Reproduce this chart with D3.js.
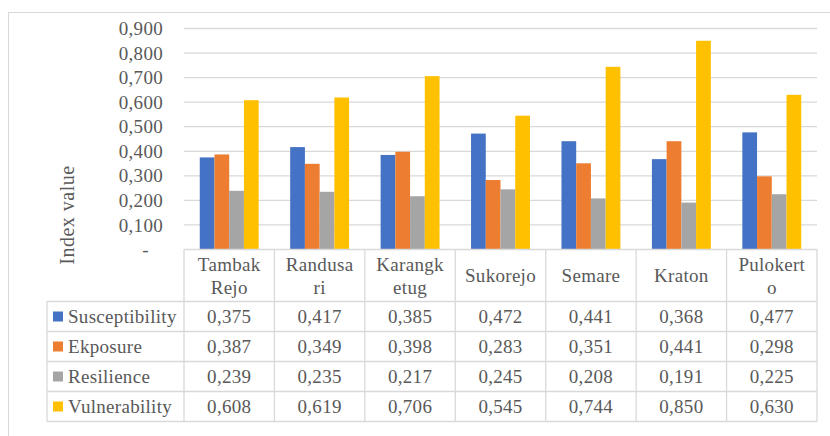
<!DOCTYPE html>
<html lang="en">
<head>
  <meta charset="UTF-8">
  <title>Index value chart</title>
  <script src="https://d3js.org/d3.v7.min.js"></script>
  <style>
    body { margin: 0; background: #fff; }
  </style>
</head>
<body>
  <script>
    var categories = [["Tambak", "Rejo"], ["Randusa", "ri"], ["Karangk", "etug"], ["Sukorejo"], ["Semare"], ["Kraton"], ["Pulokert", "o"]];
    var seriesNames = ["Susceptibility", "Ekposure", "Resilience", "Vulnerability"];
    var susceptibility = [0.375, 0.417, 0.385, 0.472, 0.441, 0.368, 0.477];
    var ekposure = [0.387, 0.349, 0.398, 0.283, 0.351, 0.441, 0.298];
    var resilience = [0.239, 0.235, 0.217, 0.245, 0.208, 0.191, 0.225];
    var vulnerability = [0.608, 0.619, 0.706, 0.545, 0.744, 0.850, 0.630];
    var yTicks = [0, 0.1, 0.2, 0.3, 0.4, 0.5, 0.6, 0.7, 0.8, 0.9];
    var colors = ["#4472C4", "#ED7D31", "#A5A5A5", "#FFC000"];

    var series = [susceptibility, ekposure, resilience, vulnerability];
    var catKeys = categories.map(function(c) { return c.join(" "); });

    var FONT = "'Liberation Serif', 'DejaVu Serif', serif";
    var width = 830, height = 436;
    var plotLeft = 184, plotRight = 817, plotTop = 28.5, plotBottom = 249.5;
    var rowTops = [301.5, 331.5, 361.5, 391.5, 421.5];  // data table rows
    var legendLeft = 47;

    var svg = d3.select("body").append("svg")
      .attr("width", width)
      .attr("height", height);

    // helper so every label gets the same serif text style
    function label(sel, size) {
      return sel.style("font-family", FONT)
        .style("font-size", (size || 19) + "px")
        .style("letter-spacing", "0.3px")
        .style("fill", "#595959");
    }

    // chart border
    svg.append("rect")
      .attr("x", 8.5).attr("y", 12.5)
      .attr("width", 840).attr("height", 440)
      .attr("fill", "none")
      .attr("stroke", "#d9d9d9");

    var x0 = d3.scaleBand().domain(catKeys).range([plotLeft, plotRight]);
    var x1 = d3.scaleBand().domain(d3.range(series.length))
      .range([0, x0.bandwidth()])
      .paddingOuter(1.07).paddingInner(0);
    var y = d3.scaleLinear().domain([0, 0.9]).range([plotBottom, plotTop]);

    // gridlines
    svg.append("g")
      .selectAll("line")
      .data(yTicks.slice(1))
      .enter().append("line")
      .attr("x1", plotLeft).attr("x2", plotRight)
      .attr("y1", function(d) { return y(d); })
      .attr("y2", function(d) { return y(d); })
      .attr("stroke", "#d9d9d9")
      .attr("stroke-width", 1.3);

    // y axis labels
    var fmt = function(d) { return d === 0 ? "-" : d3.format(".3f")(d).replace(".", ","); };
    var yAxis = d3.axisLeft(y).tickValues(yTicks).tickFormat(fmt).tickSize(0).tickPadding(21);
    var yg = svg.append("g").attr("transform", "translate(" + plotLeft + ",0)").call(yAxis);
    yg.select(".domain").remove();
    label(yg.selectAll("text"));
    yg.selectAll(".tick").filter(function(d) { return d === 0; }).select("text").attr("dx", -14);

    // y axis title
    label(svg.append("text"), 20)
      .attr("transform", "translate(74,215) rotate(-90)")
      .attr("text-anchor", "middle")
      .style("letter-spacing", "0.5px")
      .text("Index value");

    // bars
    var groups = svg.append("g").selectAll("g")
      .data(series)
      .enter().append("g")
      .attr("fill", function(d, i) { return colors[i]; });

    groups.each(function(vals, si) {
      d3.select(this).selectAll("rect")
        .data(vals)
        .enter().append("rect")
        .attr("x", function(d, i) { return x0(catKeys[i]) + x1(si); })
        .attr("width", x1.bandwidth())
        .attr("y", function(d) { return y(d); })
        .attr("height", function(d) { return plotBottom - y(d); });
    });

    // data table
    var grid = svg.append("g").attr("stroke", "#d9d9d9").attr("stroke-width", 1.3).attr("fill", "none");
    grid.append("line").attr("x1", plotLeft).attr("x2", plotRight).attr("y1", plotBottom).attr("y2", plotBottom);
    rowTops.forEach(function(ry) {
      grid.append("line").attr("x1", legendLeft).attr("x2", plotRight).attr("y1", ry).attr("y2", ry);
    });
    grid.append("line").attr("x1", legendLeft).attr("x2", legendLeft).attr("y1", rowTops[0]).attr("y2", rowTops[4]);
    catKeys.forEach(function(k) {
      grid.append("line").attr("x1", x0(k)).attr("x2", x0(k)).attr("y1", plotBottom).attr("y2", rowTops[4]);
    });
    grid.append("line").attr("x1", plotRight).attr("x2", plotRight).attr("y1", plotBottom).attr("y2", rowTops[4]);

    // header labels
    categories.forEach(function(lines, i) {
      var cx = x0(catKeys[i]) + x0.bandwidth() / 2;
      var mid = (plotBottom + rowTops[0]) / 2;
      var t = label(svg.append("text")).attr("text-anchor", "middle");
      lines.forEach(function(line, li) {
        t.append("tspan")
          .attr("x", cx)
          .attr("y", mid + (li - (lines.length - 1) / 2) * 23)
          .attr("dy", "0.35em")
          .text(line);
      });
    });

    // legend rows + values
    series.forEach(function(vals, si) {
      var cy = (rowTops[si] + rowTops[si + 1]) / 2;
      svg.append("rect")
        .attr("x", 53).attr("y", cy - 5)
        .attr("width", 10).attr("height", 10)
        .attr("fill", colors[si]);
      label(svg.append("text"))
        .attr("x", 68).attr("y", cy).attr("dy", "0.35em")
        .text(seriesNames[si]);
      vals.forEach(function(v, i) {
        label(svg.append("text"))
          .attr("x", x0(catKeys[i]) + x0.bandwidth() / 2)
          .attr("y", cy).attr("dy", "0.35em")
          .attr("text-anchor", "middle")
          .text(d3.format(".3f")(v).replace(".", ","));
      });
    });
  </script>
</body>
</html>
